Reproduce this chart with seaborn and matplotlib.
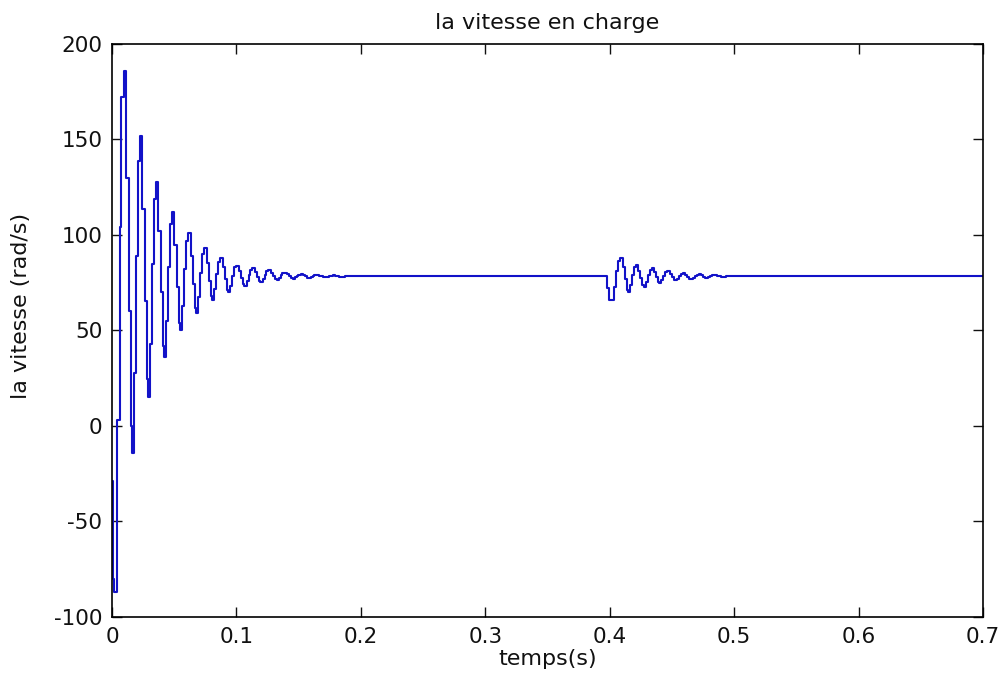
import matplotlib
matplotlib.use("Agg")
import matplotlib.pyplot as plt
import seaborn as sns
import pandas as pd

# ---- data ----
time_s = [
    0.0000, 0.0008, 0.0016, 0.0036, 0.0044, 0.0062, 0.0075,
    0.0096, 0.0115, 0.0134, 0.0150, 0.0161, 0.0178, 0.0194, 0.0208,
    0.0225, 0.0244, 0.0263, 0.0279, 0.0290, 0.0307, 0.0323, 0.0337,
    0.0354, 0.0373, 0.0392, 0.0408, 0.0419, 0.0436, 0.0452, 0.0466,
    0.0483, 0.0502, 0.0521, 0.0537, 0.0548, 0.0565, 0.0581, 0.0595,
    0.0612, 0.0631, 0.0650, 0.0666, 0.0677, 0.0694, 0.0710, 0.0724,
    0.0741, 0.0760, 0.0779, 0.0795, 0.0806, 0.0823, 0.0839, 0.0853,
    0.0870, 0.0889, 0.0908, 0.0924, 0.0935, 0.0952, 0.0968, 0.0982,
    0.0999, 0.1018, 0.1037, 0.1053, 0.1064, 0.1081, 0.1097, 0.1111,
    0.1128, 0.1147, 0.1166, 0.1182, 0.1193, 0.1210, 0.1226, 0.1240,
    0.1257, 0.1276, 0.1295, 0.1311, 0.1322, 0.1339, 0.1355, 0.1369,
    0.1386, 0.1405, 0.1424, 0.1440, 0.1451, 0.1468, 0.1484, 0.1498,
    0.1515, 0.1534, 0.1553, 0.1569, 0.1580, 0.1597, 0.1613, 0.1627,
    0.1644, 0.1663, 0.1682, 0.1698, 0.1709, 0.1726, 0.1742, 0.1756,
    0.1773, 0.1792, 0.1811, 0.1827, 0.1838, 0.1855, 0.1871, 0.1900,
    0.3982, 0.3995, 0.4037, 0.4053, 0.4067,
    0.4084, 0.4103, 0.4121, 0.4136, 0.4147, 0.4164, 0.4180, 0.4194,
    0.4210, 0.4229, 0.4247, 0.4262, 0.4273, 0.4290, 0.4306, 0.4320,
    0.4336, 0.4355, 0.4373, 0.4388, 0.4399, 0.4416, 0.4432, 0.4446,
    0.4462, 0.4481, 0.4499, 0.4514, 0.4525, 0.4542, 0.4558, 0.4572,
    0.4588, 0.4607, 0.4625, 0.4640, 0.4651, 0.4668, 0.4684, 0.4698,
    0.4714, 0.4733, 0.4751, 0.4766, 0.4777, 0.4794, 0.4810, 0.4824,
    0.4840, 0.4859, 0.4877, 0.4892, 0.4903, 0.4920, 0.4936, 0.4950,
    0.4966, 0.4985, 0.4995, 0.7000,
]
speed_rad_s = [
    -29, -80, -87, -74, 3, 104, 172,
    186, 130, 60, 0, -14, 27.5, 89, 139,
    152, 113.6, 65.7, 24.6, 15, 43, 85, 119,
    128, 102, 70, 42, 36, 55, 83, 106,
    112, 94.6, 73, 54, 50, 63, 82, 97,
    101, 89, 74.5, 62, 59, 67.5, 80, 90,
    93, 85.4, 76, 68, 66, 71.5, 79.6, 86,
    88, 83, 76.7, 71.3, 70, 73.5, 78.7, 83,
    84, 81, 77.4, 74.2, 73.5, 75.8, 79.1, 81.8,
    82.5, 80.5, 78.1, 76, 75.5, 77, 79.2, 81,
    81.5, 80.1, 78.4, 76.9, 76.5, 77.5, 78.9, 80,
    80.3, 79.4, 78.3, 77.4, 77.2, 77.8, 78.6, 79.3,
    79.5, 79.0, 78.3, 77.7, 77.6, 78.0, 78.5, 78.9,
    79.0, 78.7, 78.3, 78.0, 77.9, 78.1, 78.4, 78.7,
    78.8, 78.6, 78.4, 78.2, 78.1, 78.2, 78.4, 78.3,
    72, 66, 73, 81, 86.5,
    88, 83, 76.7, 71.3, 70, 73.6, 79, 83.3,
    84.5, 81.3, 77.3, 73.8, 73, 75.4, 78.9, 81.7,
    82.5, 80.4, 77.8, 75.5, 75, 76.5, 78.7, 80.5,
    81, 79.7, 78, 76.6, 76.3, 77.2, 78.6, 79.7,
    80, 79.2, 78.1, 77.2, 77, 77.6, 78.5, 79.2,
    79.4, 78.9, 78.2, 77.6, 77.5, 77.9, 78.4, 78.9,
    79, 78.7, 78.3, 78, 77.9, 78.1, 78.4, 78.6,
    78.7, 78.5, 78.3, 78.3,
]
x_ticks = [0, 0.1, 0.2, 0.3, 0.4, 0.5, 0.6, 0.7]
x_tick_labels = ["0", "0.1", "0.2", "0.3", "0.4", "0.5", "0.6", "0.7"]
y_ticks = [-100, -50, 0, 50, 100, 150, 200]
y_tick_labels = ["-100", "-50", "0", "50", "100", "150", "200"]
title = "la vitesse en charge"
x_label = "temps(s)"
y_label = "la vitesse (rad/s)"

df = pd.DataFrame({"t": time_s, "w": speed_rad_s})

sns.set_theme(style="ticks")
plt.rcParams["font.family"] = ["DejaVu Sans"]
plt.rcParams["axes.unicode_minus"] = False
plt.rcParams["xtick.direction"] = "in"
plt.rcParams["ytick.direction"] = "in"

fig = plt.figure(figsize=(10.02, 6.81), dpi=100)
ax = fig.add_axes([0.1118, 0.094, 0.8692, 0.8414])

sns.lineplot(data=df, x="t", y="w", ax=ax, color="#1212c8", linewidth=1.5,
             estimator=None, sort=False, drawstyle="steps-post")

ax.set_xlim(0, 0.7)
ax.set_ylim(-100, 200)
ax.set_xticks(x_ticks)
ax.set_xticklabels(x_tick_labels)
ax.set_yticks(y_ticks)
ax.set_yticklabels(y_tick_labels)
ax.tick_params(axis="both", which="both", direction="in", length=7, width=1.0,
               colors="#111111", labelsize=15.5, top=True, right=True, pad=7)
for s in ax.spines.values():
    s.set_visible(True)
    s.set_color("black")
    s.set_linewidth(1.2)

ax.set_title(title, fontsize=16, pad=11, color="#111111")
ax.set_xlabel(x_label, fontsize=16, labelpad=2, color="#111111")
ax.set_ylabel(y_label, fontsize=16, labelpad=14, color="#111111")
ax.yaxis.set_label_coords(-0.093, 0.543)

fig.savefig("out.png", dpi=100, facecolor="white")
